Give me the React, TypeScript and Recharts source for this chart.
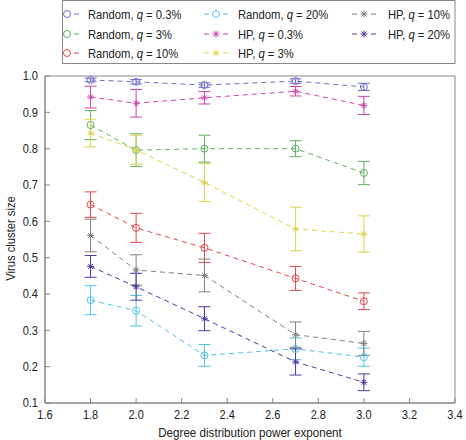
import React from 'react';
import { ComposedChart, Line, XAxis, YAxis, ErrorBar, ReferenceArea, Label } from 'recharts';

const xValues = [1.8, 2.0, 2.3, 2.7, 3.0];

const random03 = [0.989, 0.984, 0.975, 0.986, 0.970];
const random03Err = [0.005, 0.006, 0.006, 0.006, 0.01];
const random3 = [0.865, 0.796, 0.800, 0.800, 0.733];
const random3Err = [0.04, 0.045, 0.037, 0.022, 0.032];
const random10 = [0.646, 0.582, 0.527, 0.443, 0.380];
const random10Err = [0.035, 0.04, 0.04, 0.033, 0.023];
const random20 = [0.383, 0.354, 0.231, 0.249, 0.226];
const random20Err = [0.04, 0.042, 0.03, 0.03, 0.025];
const hp03 = [0.942, 0.925, 0.940, 0.958, 0.919];
const hp03Err = [0.03, 0.038, 0.017, 0.013, 0.025];
const hp3 = [0.843, 0.797, 0.707, 0.579, 0.565];
const hp3Err = [0.038, 0.04, 0.052, 0.06, 0.05];
const hp10 = [0.561, 0.466, 0.451, 0.288, 0.264];
const hp10Err = [0.045, 0.042, 0.045, 0.035, 0.033];
const hp20 = [0.476, 0.420, 0.332, 0.213, 0.157];
const hp20Err = [0.03, 0.037, 0.033, 0.036, 0.023];

const xTicks = [1.6, 1.8, 2.0, 2.2, 2.4, 2.6, 2.8, 3.0, 3.2, 3.4];
const yTicks = [0.1, 0.2, 0.3, 0.4, 0.5, 0.6, 0.7, 0.8, 0.9, 1.0];

type Series = { key: string; kind: string; q: string; values: number[]; errors: number[]; color: string; marker: 'circle' | 'star' };

const series: Series[] = [
  { key: 'r03', kind: 'Random', q: '0.3%', values: random03, errors: random03Err, color: '#6f6cc4', marker: 'circle' },
  { key: 'r3', kind: 'Random', q: '3%', values: random3, errors: random3Err, color: '#5fb35f', marker: 'circle' },
  { key: 'r10', kind: 'Random', q: '10%', values: random10, errors: random10Err, color: '#e04848', marker: 'circle' },
  { key: 'r20', kind: 'Random', q: '20%', values: random20, errors: random20Err, color: '#52c3e6', marker: 'circle' },
  { key: 'h03', kind: 'HP', q: '0.3%', values: hp03, errors: hp03Err, color: '#cc44aa', marker: 'star' },
  { key: 'h3', kind: 'HP', q: '3%', values: hp3, errors: hp3Err, color: '#ddd44a', marker: 'star' },
  { key: 'h10', kind: 'HP', q: '10%', values: hp10, errors: hp10Err, color: '#808080', marker: 'star' },
  { key: 'h20', kind: 'HP', q: '20%', values: hp20, errors: hp20Err, color: '#4a3aa0', marker: 'star' },
];

const tableData = xValues.map((x, i) => {
  const row: Record<string, number> = { x };
  series.forEach((s) => {
    row[s.key] = s.values[i];
    row[s.key + 'e'] = s.errors[i];
  });
  return row;
});

const FONT = "'Liberation Sans', Arial, sans-serif";
const AXIS = '#888888';
const TEXT = '#222222';

const Asterisk = ({ cx, cy, color }: { cx: number; cy: number; color: string }) => (
  <g stroke={color} strokeWidth={1} fill="none">
    <line x1={cx - 3.5} y1={cy} x2={cx + 3.5} y2={cy} />
    <line x1={cx} y1={cy - 3.5} x2={cx} y2={cy + 3.5} />
    <line x1={cx - 2.5} y1={cy - 2.5} x2={cx + 2.5} y2={cy + 2.5} />
    <line x1={cx - 2.5} y1={cy + 2.5} x2={cx + 2.5} y2={cy - 2.5} />
  </g>
);

const Marker = ({ cx, cy, s }: { cx: number; cy: number; s: Series }) =>
  s.marker === 'circle' ? (
    <circle cx={cx} cy={cy} r={3.5} fill="none" stroke={s.color} strokeWidth={1} />
  ) : (
    <Asterisk cx={cx} cy={cy} color={s.color} />
  );

const legendCols = [
  { mx: 5, tx: 26, left: false },
  { mx: 154, tx: 176, left: true },
  { mx: 302, tx: 326, left: true },
];
const legendRows = [14, 34, 53];

const LegendBox = () => (
  <svg width={394} height={65} style={{ position: 'absolute', left: 62, top: 0 }}>
    <rect x={0.5} y={0.5} width={392.5} height={63} fill="#fff" stroke={AXIS} strokeWidth={1} />
    {series.map((s, i) => {
      const col = legendCols[Math.floor(i / 3)];
      const y = legendRows[i % 3];
      return (
        <g key={s.key}>
          {col.left && <line x1={col.mx - 12} y1={y} x2={col.mx - 7} y2={y} stroke={s.color} strokeWidth={1} />}
          <line x1={col.mx + 7} y1={y} x2={col.mx + 12} y2={y} stroke={s.color} strokeWidth={1} />
          <Marker cx={col.mx} cy={y} s={s} />
          <text transform={`translate(${col.tx},${y + 4.5}) scale(0.9,1)`} x={0} y={0} fontFamily={FONT} fontSize={12.5} fill={TEXT}>
            {s.kind + ', '}
            <tspan fontStyle="italic">q</tspan>
            {' = ' + s.q}
          </text>
        </g>
      );
    })}
  </svg>
);

const XTick = (p: any) => (
  <text transform={`translate(${p.x},${p.y}) scale(0.92,1)`} x={0} y={0} dy="0.71em" textAnchor="middle" fontFamily={FONT} fontSize={12} fill={TEXT}>
    {Number(p.payload.value).toFixed(1)}
  </text>
);

const YTick = (p: any) => (
  <text transform={`translate(${p.x},${p.y}) scale(0.92,1)`} x={0} y={0} dy="0.36em" textAnchor="end" fontFamily={FONT} fontSize={12} fill={TEXT}>
    {Number(p.payload.value).toFixed(1)}
  </text>
);

export default function App() {
  return (
    <div style={{ position: 'absolute', left: 0, top: 0, width: 466, height: 440, background: '#fff' }}>
      <ComposedChart
        width={466}
        height={440}
        data={tableData}
        margin={{ top: 76, right: 11, left: 0, bottom: 0 }}
        style={{ fontFamily: FONT }}
      >
        <XAxis
          dataKey="x"
          type="number"
          domain={[1.6, 3.4]}
          ticks={xTicks}
          height={37}
          tickSize={-5}
          tickMargin={12}
          stroke={AXIS}
          tick={<XTick />}
          allowDataOverflow
        >
          <Label
            content={(p: any) => {
              const vb = p.viewBox || { x: 45, width: 410 };
              const cx = vb.x + vb.width / 2;
              return (
                <text transform={`translate(${cx},437) scale(0.97,1)`} x={0} y={0} textAnchor="middle" fontSize={12} fontFamily={FONT} fill={TEXT}>
                  Degree distribution power exponent
                </text>
              );
            }}
          />
        </XAxis>
        <YAxis
          type="number"
          domain={[0.1, 1.0]}
          ticks={yTicks}
          width={45}
          tickSize={-5}
          tickMargin={12}
          stroke={AXIS}
          tick={<YTick />}
          allowDataOverflow
        >
          <Label
            content={(p: any) => {
              const vb = p.viewBox || { y: 76, height: 327 };
              const cy = vb.y + vb.height / 2 - 1;
              return (
                <text transform={`translate(15,${cy}) rotate(-90) scale(0.9,1)`} x={0} y={0} textAnchor="middle" fontSize={12.5} fontFamily={FONT} fill={TEXT}>
                  Virus cluster size
                </text>
              );
            }}
          />
        </YAxis>
        <ReferenceArea x1={1.6} x2={3.4} y1={0.1} y2={1.0} fill="none" stroke={AXIS} strokeWidth={1} ifOverflow="visible" />
        {series.map((s) => (
          <Line
            key={s.key}
            dataKey={s.key}
            type="linear"
            stroke={s.color}
            strokeWidth={1}
            strokeDasharray="5 4"
            isAnimationActive={false}
            dot={(p: any) => <Marker key={`${s.key}-${p.index}`} cx={p.cx} cy={p.cy} s={s} />}
            activeDot={false}
          >
            <ErrorBar dataKey={s.key + 'e'} width={6} stroke={s.color} strokeWidth={1} direction="y" />
          </Line>
        ))}
      </ComposedChart>
      <LegendBox />
    </div>
  );
}
